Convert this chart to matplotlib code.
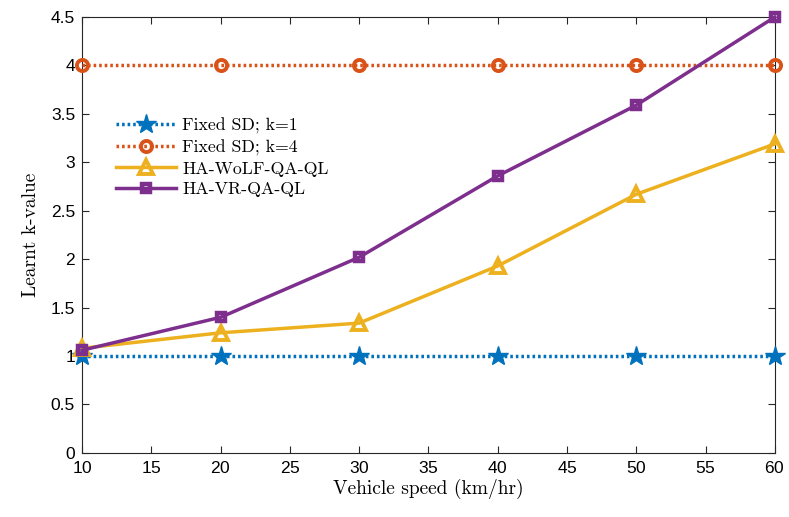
import matplotlib
matplotlib.use("Agg")
import matplotlib.pyplot as plt

speeds = [10, 20, 30, 40, 50, 60]
fixed_k1 = [1, 1, 1, 1, 1, 1]
fixed_k4 = [4, 4, 4, 4, 4, 4]
wolf = [1.08, 1.24, 1.34, 1.93, 2.67, 3.19]
vr = [1.06, 1.40, 2.02, 2.86, 3.59, 4.50]

xticks = [10, 15, 20, 25, 30, 35, 40, 45, 50, 55, 60]
yticks = [0, 0.5, 1, 1.5, 2, 2.5, 3, 3.5, 4, 4.5]
ytick_labels = ["0", "0.5", "1", "1.5", "2", "2.5", "3", "3.5", "4", "4.5"]

c_blue = "#0072BD"
c_orange = "#D95319"
c_yellow = "#EDB120"
c_purple = "#7E2F8E"

serif = "cmr10"
plt.rcParams["axes.formatter.use_mathtext"] = True

fig = plt.figure(figsize=(7.89, 5.17), dpi=100)
ax = fig.add_axes([0.104, 0.124, 0.878, 0.843])

lw = 2.5
dots = (0, (0.75, 0.85))
ax.plot(speeds, fixed_k1, color=c_blue, lw=lw, linestyle=dots,
        marker="*", markersize=15, markerfacecolor=c_blue, markeredgecolor=c_blue,
        label="Fixed SD; k=1", clip_on=False, zorder=3)
ax.plot(speeds, fixed_k4, color=c_orange, lw=lw, linestyle=dots,
        marker="o", markersize=8, markerfacecolor="none", markeredgewidth=2.8,
        markeredgecolor=c_orange, label="Fixed SD; k=4", clip_on=False, zorder=3)
ax.plot(speeds, wolf, color=c_yellow, lw=lw, marker="^", markersize=10,
        markerfacecolor="none", markeredgewidth=2.8, markeredgecolor=c_yellow,
        label="HA-WoLF-QA-QL", clip_on=False, zorder=4)
ax.plot(speeds, vr, color=c_purple, lw=lw, marker="s", markersize=6,
        markerfacecolor="none", markeredgewidth=3.2, markeredgecolor=c_purple,
        label="HA-VR-QA-QL", clip_on=False, zorder=5)

ax.set_xlim(10, 60)
ax.set_ylim(0, 4.5)
ax.set_xticks(xticks)
ax.set_yticks(yticks)
ax.set_yticklabels(ytick_labels)
ax.tick_params(direction="in", top=True, right=True, length=5, width=0.8,
               colors="#262626", labelsize=12.5, pad=5)
for lab in ax.get_xticklabels() + ax.get_yticklabels():
    lab.set_fontfamily("Liberation Sans")
    lab.set_color("black")
for s in ax.spines.values():
    s.set_color("#262626")
    s.set_linewidth(0.8)

ax.set_xlabel("Vehicle speed (km/hr)", fontfamily=serif, fontsize=14, labelpad=2)
ax.set_ylabel("Learnt k-value", fontfamily=serif, fontsize=14, labelpad=8)

leg = ax.legend(loc="upper left", bbox_to_anchor=(0.039, 0.785), frameon=False,
                prop={"family": serif, "size": 12.8}, handlelength=3.35,
                handletextpad=0.35, labelspacing=0.3, borderaxespad=0)

fig.savefig("out.png", dpi=100)
